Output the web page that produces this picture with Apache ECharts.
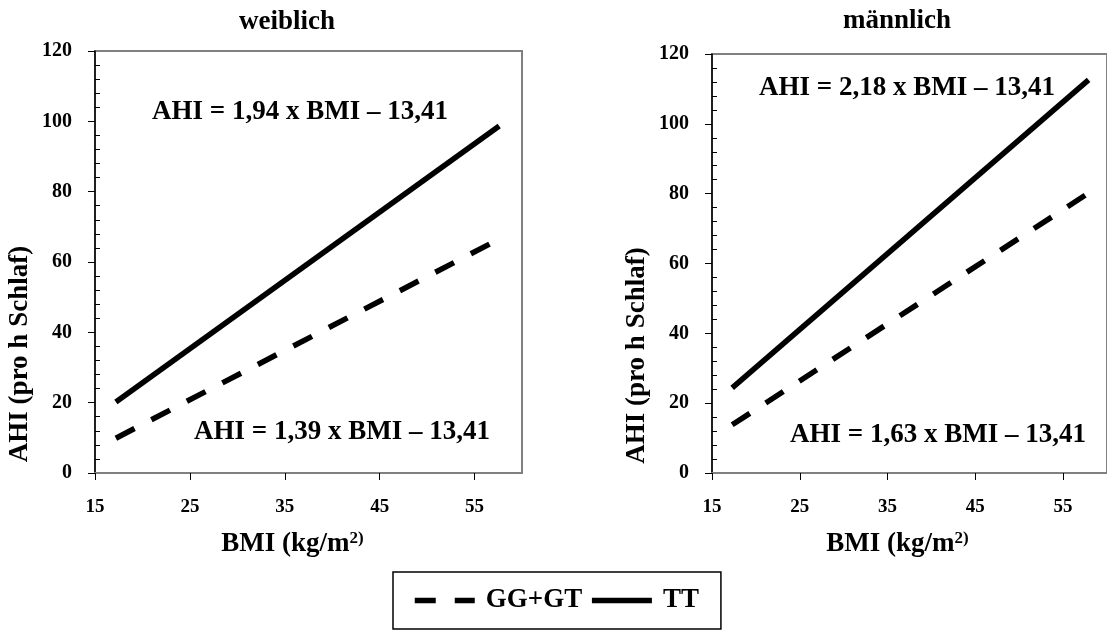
<!DOCTYPE html>
<html>
<head>
<meta charset="utf-8">
<script src="https://cdn.jsdelivr.net/npm/echarts@6/dist/echarts.min.js"></script>
<style>
html, body { margin: 0; padding: 0; background: #fff; }
#chart { width: 1107px; height: 634px; }
</style>
</head>
<body>
<div id="chart"></div>
<script>
// Werte (BMI, AHI)
var femaleGG = [[17.2, 9.9], [57.8, 66.8]];
var femaleTT = [[17.2, 20.2], [57.6, 98.7]];
var maleGG = [[17.3, 13.8], [58.1, 80.5]];
var maleTT = [[17.3, 24.4], [57.9, 112.6]];

var xTicks = [15, 25, 35, 45, 55];
var panelTitles = ['weiblich', 'männlich'];
var equations = [
	'AHI = 1,94 x BMI – 13,41',
	'AHI = 1,39 x BMI – 13,41',
	'AHI = 2,18 x BMI – 13,41',
	'AHI = 1,63 x BMI – 13,41'
];

var FONT = "'Liberation Serif', 'Times New Roman', serif";
var bigText = { fontFamily: FONT, fontWeight: 'bold', fontSize: 27, color: '#000' };

function xAxis(gridIndex, shift) {
	return {
		gridIndex: gridIndex, type: 'value', min: 15, max: 60, interval: 10,
		axisLine: { show: true, lineStyle: { color: '#808080', width: 2 } },
		axisTick: { show: true, length: 7, customValues: xTicks, lineStyle: { color: '#000' } },
		axisLabel: { customValues: xTicks, margin: 25, fontFamily: FONT, fontWeight: 'bold', fontSize: 19, color: '#000' },
		splitLine: { show: false },
		name: 'BMI (kg/m{sup|2)}', nameLocation: 'middle', nameGap: 57,
		nameTextStyle: {
			fontFamily: FONT, fontWeight: 'bold', fontSize: 27, color: '#000',
			padding: [0, shift, 0, 0],
			rich: { sup: { fontFamily: FONT, fontWeight: 'bold', fontSize: 17, color: '#000', verticalAlign: 'top', padding: [0, 0, 12, 0] } }
		}
	};
}

function yAxis(gridIndex) {
	return {
		gridIndex: gridIndex, type: 'value', min: 0, max: 120, interval: 20, position: 'left',
		axisLine: { show: true, lineStyle: { color: '#000', width: 1.5 } },
		axisTick: { show: true, length: 7, lineStyle: { color: '#000' } },
		axisLabel: { margin: 23, fontFamily: FONT, fontWeight: 'bold', fontSize: 20, color: '#000' },
		splitLine: { show: false },
		name: 'AHI (pro h Schlaf)', nameLocation: 'middle', nameGap: 61, nameRotate: 90,
		nameTextStyle: { fontFamily: FONT, fontWeight: 'bold', fontSize: 27, color: '#000', padding: [0, 184, 0, 0] }
	};
}

//kleine Striche innen
function yMinor(gridIndex) {
	return {
		gridIndex: gridIndex, type: 'value', min: 0, max: 120, interval: 20, position: 'left',
		axisLine: { show: false },
		axisTick: { show: false, inside: true },
		minorTick: { show: true, splitNumber: 5, length: 5, lineStyle: { color: '#000' } },
		axisLabel: { show: false },
		splitLine: { show: false }
	};
}

function lineSeries(name, data, xi, yi, dashed) {
	return {
		name: name, type: 'line', data: data, xAxisIndex: xi, yAxisIndex: yi,
		symbol: 'none', silent: true, z: 5,
		lineStyle: { color: '#000', width: 5.5, type: dashed ? [21, 19] : 'solid', cap: 'butt' },
		itemStyle: { color: '#000' }
	};
}

function eqText(txt, x, y) {
	return {
		type: 'text', x: x, y: y, z: 10,
		style: { text: txt, font: 'bold 27px ' + FONT, fill: '#000', align: 'center', verticalAlign: 'middle' }
	};
}

var option = {
	backgroundColor: '#fff',
	animation: false,
	title: [
		{ text: panelTitles[0], left: 282, top: 4, textAlign: 'center', textStyle: bigText },
		{ text: panelTitles[1], left: 892, top: 3, textAlign: 'center', textStyle: bigText }
	],
	grid: [
		{ left: 95, top: 51, width: 427, height: 422, show: true, borderColor: '#808080', borderWidth: 2 },
		{ left: 712, top: 54, width: 405, height: 419, show: true, borderColor: '#808080', borderWidth: 2 }
	],
	xAxis: [xAxis(0, 32), xAxis(1, 24)],
	yAxis: [yAxis(0), yMinor(0), yAxis(1), yMinor(1)],
	legend: {
		data: ['GG+GT', 'TT'], left: 393, top: 572,
		itemWidth: 60, itemHeight: 14, itemGap: 7,
		padding: [15, 22, 15, 19],
		borderColor: '#000', borderWidth: 1.5,
		itemStyle: { opacity: 0 },
		lineStyle: { width: 5.5, color: '#000' },
		textStyle: { fontFamily: FONT, fontWeight: 'bold', fontSize: 27, color: '#000', padding: [0, 0, 0, 6] }
	},
	graphic: [
		eqText(equations[0], 300, 112),
		eqText(equations[1], 342, 432),
		eqText(equations[2], 907, 88),
		eqText(equations[3], 938, 435)
	],
	series: [
		lineSeries('GG+GT', femaleGG, 0, 0, true),
		lineSeries('TT', femaleTT, 0, 0, false),
		lineSeries('GG+GT', maleGG, 1, 2, true),
		lineSeries('TT', maleTT, 1, 2, false)
	]
};

var myChart = echarts.init(document.getElementById('chart'));
myChart.setOption(option);
</script>
</body>
</html>
